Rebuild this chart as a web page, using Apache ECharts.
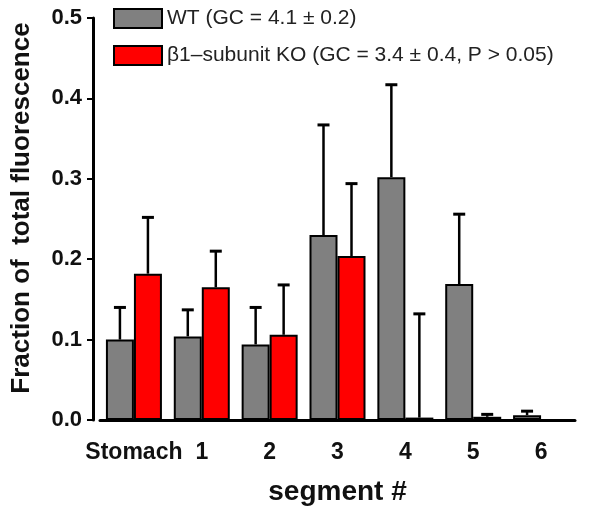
<!DOCTYPE html>
<html>
<head>
<meta charset="utf-8">
<script src="https://cdn.jsdelivr.net/npm/echarts@6/dist/echarts.min.js"></script>
<style>
  html, body { margin: 0; padding: 0; background: #fff; }
  #chart { width: 601px; height: 512px; }
</style>
</head>
<body>
<div id="chart"></div>
<script>
// segments along the gut
const categories = ['Stomach', '1', '2', '3', '4', '5', '6'];
// mean fraction of total fluorescence
const wtValues = [0.100, 0.104, 0.094, 0.230, 0.302, 0.169, 0.006];
const koValues = [0.182, 0.165, 0.106, 0.204, 0.003, 0.004, 0.000];
// upper error (SD)
const wtErrors = [0.040, 0.033, 0.046, 0.137, 0.115, 0.087, 0.005];
const koErrors = [0.070, 0.045, 0.062, 0.090, 0.129, 0.003, 0.000];
const wtName = 'WT (GC = 4.1 ± 0.2)';
const koName = 'β1–subunit KO (GC = 3.4 ± 0.4, P > 0.05)';

const barW = 28;
const font = 'Liberation Sans, Arial, sans-serif';

// 误差线，只画上半部分
function errorSeries(values, errors, shift) {
  return {
    type: 'custom',
    silent: true,
    z: 1,
    data: values.map((v, i) => [i, v, errors[i]]),
    renderItem(params, api) {
      const i = api.value(0);
      const v = api.value(1);
      const e = api.value(2);
      if (!e) return null;
      const base = api.coord([i, v]);
      const top = api.coord([i, v + e]);
      const x = base[0] + shift;
      return {
        type: 'group',
        children: [
          { type: 'line', shape: { x1: x, y1: base[1], x2: x, y2: top[1] }, style: { stroke: '#000', lineWidth: 2.5 } },
          { type: 'line', shape: { x1: x - 6, y1: top[1], x2: x + 6, y2: top[1] }, style: { stroke: '#000', lineWidth: 3 } }
        ]
      };
    }
  };
}

const chart = echarts.init(document.getElementById('chart'));
chart.setOption({
  animation: false,
  grid: { left: 100, right: 26, top: 18, bottom: 92, outerBoundsMode: 'none' },
  legend: {
    data: [wtName, koName],
    orient: 'vertical',
    left: 113,
    top: 8,
    padding: 0,
    icon: 'rect',
    itemWidth: 48,
    itemHeight: 19,
    itemGap: 16,
    textStyle: { fontFamily: font, fontSize: 21, color: '#222' }
  },
  xAxis: {
    type: 'category',
    data: categories,
    name: 'segment #',
    nameLocation: 'middle',
    nameGap: 58,
    nameTextStyle: { fontFamily: font, fontSize: 28, fontWeight: 'bold', color: '#111' },
    axisLine: { lineStyle: { color: '#000', width: 3 } },
    axisTick: { alignWithLabel: true, length: 7, lineStyle: { color: '#000', width: 2 } },
    axisLabel: { interval: 0, fontFamily: font, fontSize: 23, fontWeight: 'bold', color: '#111', margin: 21 }
  },
  yAxis: {
    type: 'value',
    min: 0,
    max: 0.5,
    interval: 0.1,
    offset: 7,
    name: 'Fraction of  total fluorescence',
    nameLocation: 'middle',
    nameGap: 58,
    nameTextStyle: { fontFamily: font, fontSize: 26, fontWeight: 'bold', color: '#111', padding: [0, 0, 0, 22] },
    splitLine: { show: false },
    axisLine: { show: true, lineStyle: { color: '#000', width: 3 } },
    axisTick: { show: true, length: 6, lineStyle: { color: '#000', width: 2 } },
    axisLabel: { fontFamily: font, fontSize: 22, fontWeight: 'bold', color: '#111', margin: 11,
      formatter: v => v.toFixed(1) }
  },
  series: [
    {
      name: wtName,
      type: 'bar',
      data: wtValues,
      barWidth: barW,
      barGap: '0%',
      z: 2,
      itemStyle: { color: '#808080', borderColor: '#000', borderWidth: 2 }
    },
    {
      name: koName,
      type: 'bar',
      data: koValues,
      barWidth: barW,
      z: 2,
      itemStyle: { color: '#ff0000', borderColor: '#000', borderWidth: 2 }
    },
    errorSeries(wtValues, wtErrors, -barW / 2),
    errorSeries(koValues, koErrors, barW / 2)
  ]
});
</script>
</body>
</html>
